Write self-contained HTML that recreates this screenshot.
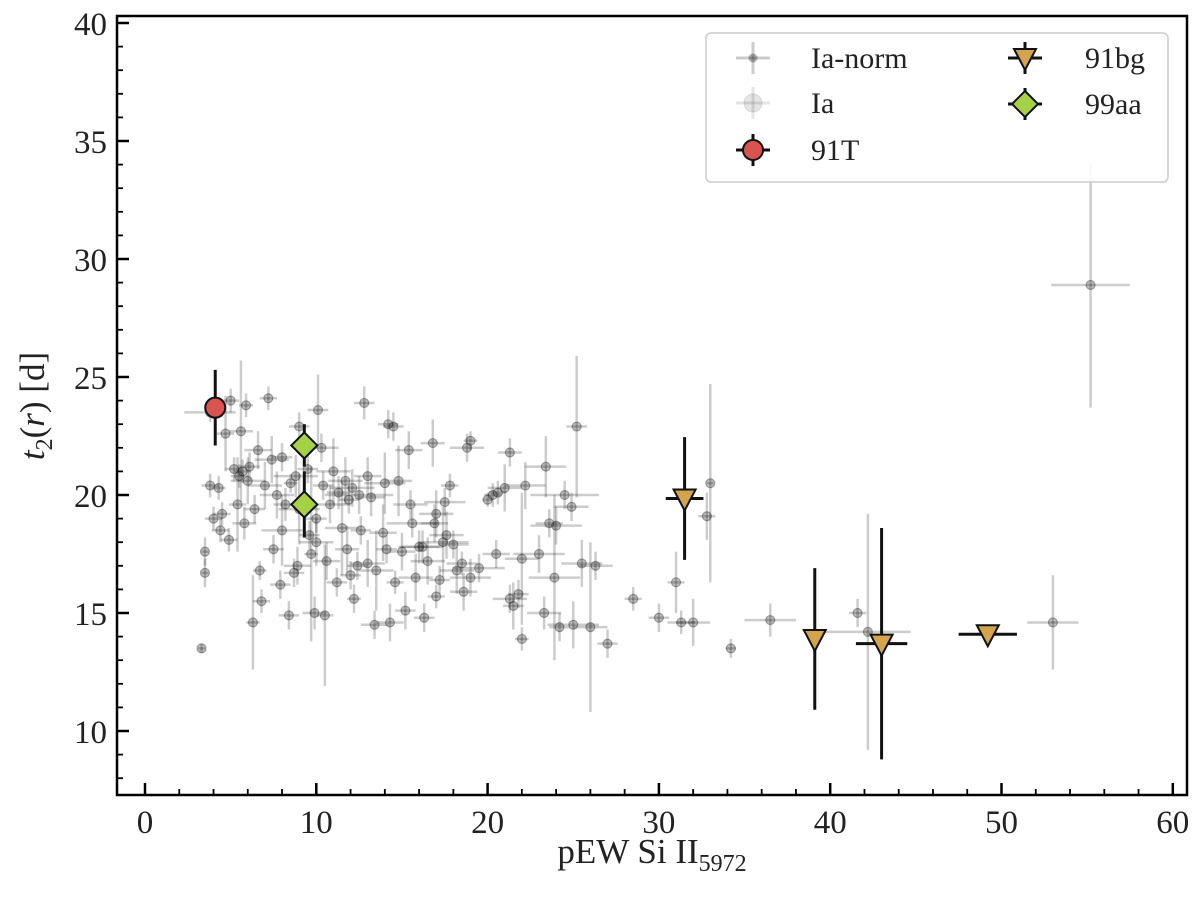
<!DOCTYPE html>
<html><head><meta charset="utf-8"><style>
body{margin:0;background:#fff}
svg text{font-family:"Liberation Serif","DejaVu Serif",serif;fill:#222}
</style></head><body>
<svg id="chart" width="1200" height="899" xmlns="http://www.w3.org/2000/svg"></svg>
<script>
const normX=[55.2,53.0,42.2,41.6,36.5,34.2,33.0,32.8,31.3,31.0,32.0,30.0,28.5,27.0,26.3,26.0,25.5,25.2,25.0,24.9,24.5,24.0,23.6,23.4,23.3,23.0,22.2,22.0,21.8,21.5,21.3,21.0,20.6,22.0,24.2,23.9,20.5,20.3,20.0,21.3,19.0,18.8,19.5,19.0,18.5,18.2,18.0,17.6,17.5,17.8,17.4,17.0,16.9,17.0,16.8,16.5,16.2,16.0,15.8,15.5,15.2,15.0,15.4,14.8,14.5,14.6,14.2,14.0,13.9,13.5,13.4,13.2,13.0,12.8,12.6,12.4,12.2,12.1,11.9,11.7,11.5,11.3,11.2,11.0,10.8,10.6,10.4,10.3,10.1,10.0,9.9,9.7,9.6,9.5,9.0,8.8,8.7,8.5,8.4,8.2,8.0,7.9,7.7,7.5,7.4,7.2,7.0,6.8,6.6,6.4,6.3,6.1,6.0,5.9,5.8,5.7,5.6,5.5,5.4,5.2,5.0,4.9,4.7,4.5,4.4,4.3,4.0,3.8,3.5,3.5,3.3,3.8,8.0,9.0,10.5,11.8,12.5,13.0,16.3,18.6,14.1,15.6,12.0,10.0,6.7,8.9,17.2,14.3];
const normY=[28.9,14.6,14.2,15.0,14.7,13.5,20.5,19.1,14.6,16.3,14.6,14.8,15.6,13.7,17.0,14.4,17.1,22.9,14.5,19.5,20.0,18.7,18.8,21.2,15.0,17.5,20.4,17.3,15.8,15.3,21.8,20.3,20.1,13.9,14.4,16.5,17.5,20.0,19.8,15.6,22.3,22.0,16.9,16.5,17.1,16.8,17.9,18.3,19.7,20.4,18.0,19.2,18.8,15.7,22.2,17.2,17.8,17.8,16.5,19.6,15.1,17.6,21.9,20.6,22.9,16.3,23.0,20.5,18.4,16.8,14.5,19.9,20.8,23.9,18.5,17.0,15.6,20.3,19.8,20.6,18.6,20.1,16.3,21.0,19.6,17.2,20.4,22.0,23.6,19.0,15.0,17.5,18.3,21.1,22.9,20.8,16.7,20.5,14.9,19.6,21.6,16.2,20.0,17.7,21.5,24.1,20.4,15.5,21.9,19.4,14.6,21.2,20.6,23.8,18.8,21.0,22.7,20.8,19.6,21.1,24.0,18.1,22.6,19.2,18.5,20.3,19.0,20.4,17.6,16.7,13.5,23.5,18.5,19.4,14.9,17.7,20.0,17.1,14.8,15.9,17.7,18.8,16.6,18.0,16.8,17.0,16.4,14.6];
const normXe=[2.3,1.5,2.5,0.5,1.5,0.3,0.2,0.5,0.8,0.5,1,0.6,0.5,0.6,1,1,1.2,0.6,1.5,1,2,1.5,0.8,1.2,1,1.5,1.2,1,0.6,0.6,0.7,1,0.5,0.4,0.6,1.5,0.8,0.5,0.3,1,0.4,1,1.5,1.2,0.9,1,0.9,1,1.2,0.5,1.5,1,0.8,0.5,0.7,1,1.2,1.2,1,1,0.6,0.8,0.8,0.8,0.6,0.5,0.6,1.2,0.8,1,0.8,0.8,0.8,0.6,0.6,0.6,0.4,1.3,0.6,1,1,0.7,0.6,1,1.2,0.8,0.6,1,0.6,0.6,0.7,0.4,0.6,0.6,0.6,1.3,0.6,0.4,0.6,0.7,0.6,0.6,1,0.6,1,0.5,1,0.5,0.8,0.6,0.4,0.6,1,0.4,0.7,0.5,0.7,0.5,0.5,0.5,0.5,0.5,0.5,0.5,0.5,0.4,0.5,0.5,0.2,0.2,0.2,1.5,1.2,1.2,0.5,0.7,2,1,0.6,0.8,0.6,1.5,0.6,1,0.4,0.8,0.6,0.8];
const normYe=[5.2,2.0,5.0,0.6,0.7,0.4,4.2,1.0,0.5,1.3,1,0.6,0.5,0.6,0.6,3.6,1,3.0,1,0.6,0.6,0.8,0.6,1.3,0.7,0.8,1.0,2.8,0.6,1,0.6,1,0.5,0.5,0.6,3.5,0.6,0.5,0.3,0.6,0.4,0.6,0.6,0.8,0.5,1,0.6,1,0.6,0.5,1.5,1,0.8,0.5,1.0,1,0.7,0.7,1,0.6,0.8,0.8,0.8,1.5,0.6,0.5,0.6,1.3,1.2,1.7,0.6,0.8,0.8,0.7,0.6,0.6,0.6,0.8,0.6,1,2,0.7,0.6,1.4,0.8,0.8,0.6,0.6,1.5,0.6,0.7,3.7,0.6,0.6,0.6,0.9,0.6,0.4,0.6,0.7,0.6,0.6,1,0.6,1,0.5,1,0.5,0.8,0.6,2.0,0.6,1,0.5,0.7,0.5,3.0,0.5,2.0,0.5,0.5,0.5,1.6,0.5,0.5,0.5,0.5,0.5,0.6,0.6,0.2,0.4,1.5,1.5,3.0,1,0.8,1,0.6,0.8,0.6,0.6,0.6,1,0.4,0.8,0.6,0.8];
const t91X=[4.1], t91Y=[23.7], t91Xe=[0.3], t91Ye=[1.6];
const bgX=[31.5,39.1,43.0,49.2], bgY=[19.85,13.9,13.7,14.1], bgXe=[1.1,0.3,1.5,1.7], bgYe=[2.6,3.0,4.9,0.4];
const aaX=[9.3,9.3], aaY=[22.1,19.6], aaXe=[0.3,0.3], aaYe=[0.9,1.4];
const xTicks=[0,10,20,30,40,50,60];
const yTicks=[10,15,20,25,30,35,40];

const NS="http://www.w3.org/2000/svg";
const svg=document.getElementById('chart');
const L=117,R=1187,T=16,B=795;
const xs=v=>145+v*17.13;
const ys=v=>731-(v-10)*23.6;
function mk(tag,attrs,parent){const e=document.createElementNS(NS,tag);for(const k in attrs)e.setAttribute(k,attrs[k]);(parent||svg).appendChild(e);return e;}

const axes=mk('g',{});


for(let v=0;v<=60;v+=2){const major=v%10===0;mk('line',{x1:xs(v),x2:xs(v),y1:B,y2:B-(major?12:6),stroke:'#000','stroke-width':major?2.5:1.8},axes);}
for(let v=8;v<=40;v++){const major=v%5===0;mk('line',{x1:L,x2:L+(major?12:6),y1:ys(v),y2:ys(v),stroke:'#000','stroke-width':major?2.5:1.8},axes);}
xTicks.forEach(v=>{const t=mk('text',{x:xs(v),y:B+38,'text-anchor':'middle','font-size':33},axes);t.textContent=v;});
yTicks.forEach(v=>{const t=mk('text',{x:L-10,y:ys(v)+12,'text-anchor':'end','font-size':33},axes);t.textContent=v;});

function errbar(g,x,y,xe,ye,col,w){
  mk('line',{x1:xs(x-xe),x2:xs(x+xe),y1:ys(y),y2:ys(y),stroke:col,'stroke-width':w},g);
  mk('line',{x1:xs(x),x2:xs(x),y1:ys(y-ye),y2:ys(y+ye),stroke:col,'stroke-width':w},g);
}
const gN=mk('g',{});


normX.forEach((x,i)=>{errbar(gN,x,normY[i],normXe[i],normYe[i],'rgba(0,0,0,0.2)',2.5);
  const c=mk('circle',{cx:xs(x),cy:ys(normY[i]),r:4.5,fill:'rgba(0,0,0,0.25)',stroke:'rgba(0,0,0,0.3)','stroke-width':1.2},gN);
  });

function special(name,X,Y,Xe,Ye,shape){
  const g=mk('g',{});
  
  
  X.forEach((x,i)=>{errbar(g,x,Y[i],Xe[i],Ye[i],'#111',3);drawMarker(g,xs(x),ys(Y[i]),shape);});
}
function drawMarker(g,cx,cy,shape){
  let e;
  if(shape==='circle')e=mk('circle',{cx,cy,r:10,fill:'#d9534f',stroke:'#111','stroke-width':2},g);
  else if(shape==='tri')e=mk('polygon',{points:`${cx-11},${cy-9} ${cx+11},${cy-9} ${cx},${cy+12}`,fill:'#d4a44c',stroke:'#111','stroke-width':2},g);
  else e=mk('polygon',{points:`${cx},${cy-13} ${cx+13},${cy} ${cx},${cy+13} ${cx-13},${cy}`,fill:'#a5d146',stroke:'#111','stroke-width':2},g);
  
}
special('series-91t',t91X,t91Y,t91Xe,t91Ye,'circle');
special('series-91bg',bgX,bgY,bgXe,bgYe,'tri');
special('series-99aa',aaX,aaY,aaXe,aaYe,'diamond');

mk('rect',{x:L,y:T,width:R-L,height:B-T,fill:'none',stroke:'#000','stroke-width':2.5},axes);

const lg=mk('g',{});


mk('rect',{x:706,y:33,width:462,height:149,rx:5,fill:'rgba(255,255,255,0.85)',stroke:'#ccc','stroke-width':1.5},lg);
function lgLine(cx,cy,col){mk('line',{x1:cx-17,x2:cx+17,y1:cy,y2:cy,stroke:col,'stroke-width':3},lg);mk('line',{x1:cx,x2:cx,y1:cy-16,y2:cy+16,stroke:col,'stroke-width':3},lg);}
function lgText(x,y,s){const t=mk('text',{x,y:y+10,'font-size':30},lg);t.textContent=s;}
lgLine(753,58,'rgba(0,0,0,0.2)');mk('circle',{cx:753,cy:58,r:4.5,fill:'rgba(0,0,0,0.3)'},lg);lgText(811,58,'Ia-norm');
lgLine(753,103,'rgba(0,0,0,0.1)');mk('circle',{cx:753,cy:103,r:9,fill:'rgba(0,0,0,0.1)',stroke:'rgba(0,0,0,0.1)'},lg);lgText(811,103,'Ia');
lgLine(753,150,'#111');drawMarker(lg,753,150,'circle');lgText(811,150,'91T');
lgLine(1025,58,'#111');drawMarker(lg,1025,58,'tri');lgText(1085,58,'91bg');
lgLine(1025,104,'#111');drawMarker(lg,1025,104,'diamond');lgText(1085,104,'99aa');
</script>
<div style="position:absolute;left:0;top:0;width:1200px;height:899px;pointer-events:none">
<div style="position:absolute;left:452px;top:832px;width:400px;text-align:center;font:35px 'Liberation Serif',serif;color:#222">pEW Si II<sub style="font-size:24px">5972</sub></div>
<div style="position:absolute;left:-84px;top:383px;width:240px;text-align:center;font:35px 'Liberation Serif',serif;color:#222;transform:rotate(-90deg)"><i>t</i><sub style="font-size:24px">2</sub>(<i>r</i>) [d]</div>
</div>
</body></html>
